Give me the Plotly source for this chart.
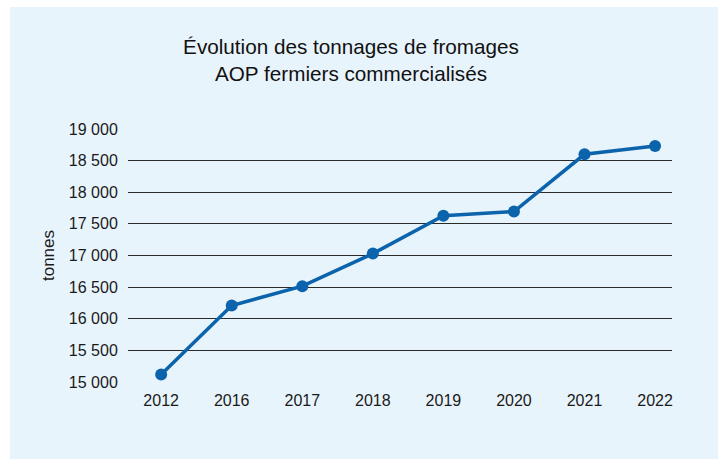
import plotly.graph_objects as go

years = ["2012", "2016", "2017", "2018", "2019", "2020", "2021", "2022"]
tonnes = [15120, 16210, 16515, 17030, 17630, 17695, 18600, 18730]
y_ticks = [15000, 15500, 16000, 16500, 17000, 17500, 18000, 18500, 19000]

W, H = 718, 459
L, R, T, B = 128, 46, 129, 77
pw, ph = W - L - R, H - T - B

BLUE = "#0B63AC"
PANEL = "#E8F4FC"
FONT = "Liberation Sans"
TXT = "#1a1a1a"

fig = go.Figure()
fig.add_trace(go.Scatter(
    x=years, y=tonnes, mode="lines+markers",
    line=dict(color=BLUE, width=3.5),
    marker=dict(color=BLUE, size=12),
    hoverinfo="x+y", showlegend=False,
))

# light blue panel behind everything (from x=10, y=7 to the window edges)
fig.add_shape(type="rect", xref="paper", yref="paper", layer="below",
              x0=(10 - L) / pw, x1=(W - L) / pw,
              y0=-B / ph, y1=(H - B - 7) / ph,
              fillcolor=PANEL, line=dict(width=0))

fig.update_layout(
    width=W, height=H,
    margin=dict(l=L, r=R, t=T, b=B, pad=0),
    paper_bgcolor="white", plot_bgcolor="rgba(0,0,0,0)",
    separators=", ",
    font=dict(family=FONT, color=TXT, size=16),
    title=dict(
        text="Évolution des tonnages de fromages<br>AOP fermiers commercialisés",
        x=351 / W, xref="container", xanchor="center",
        y=1 - 54 / H, yref="container", yanchor="top",
        font=dict(family=FONT, size=20.7, color="#111111"),
    ),
    xaxis=dict(
        type="category", range=[-0.47, 7.24],
        showgrid=False, zeroline=False, showline=False,
        ticks="outside", ticklen=4, tickcolor="rgba(0,0,0,0)",
        tickfont=dict(size=16, color=TXT),
        fixedrange=True,
    ),
    yaxis=dict(
        range=[15000, 19000], tickvals=y_ticks, tickformat=",d",
        showgrid=True, gridcolor="#2a2a2a", gridwidth=1,
        zeroline=False, showline=False,
        ticks="outside", ticklen=6, tickcolor="rgba(0,0,0,0)",
        tickfont=dict(size=16, color=TXT),
        title=dict(text="tonnes", font=dict(size=17, color=TXT), standoff=9),
        fixedrange=True,
    ),
)

fig.write_html("out.html", post_script="document.body.style.margin='0';",
               config={"displayModeBar": False})
